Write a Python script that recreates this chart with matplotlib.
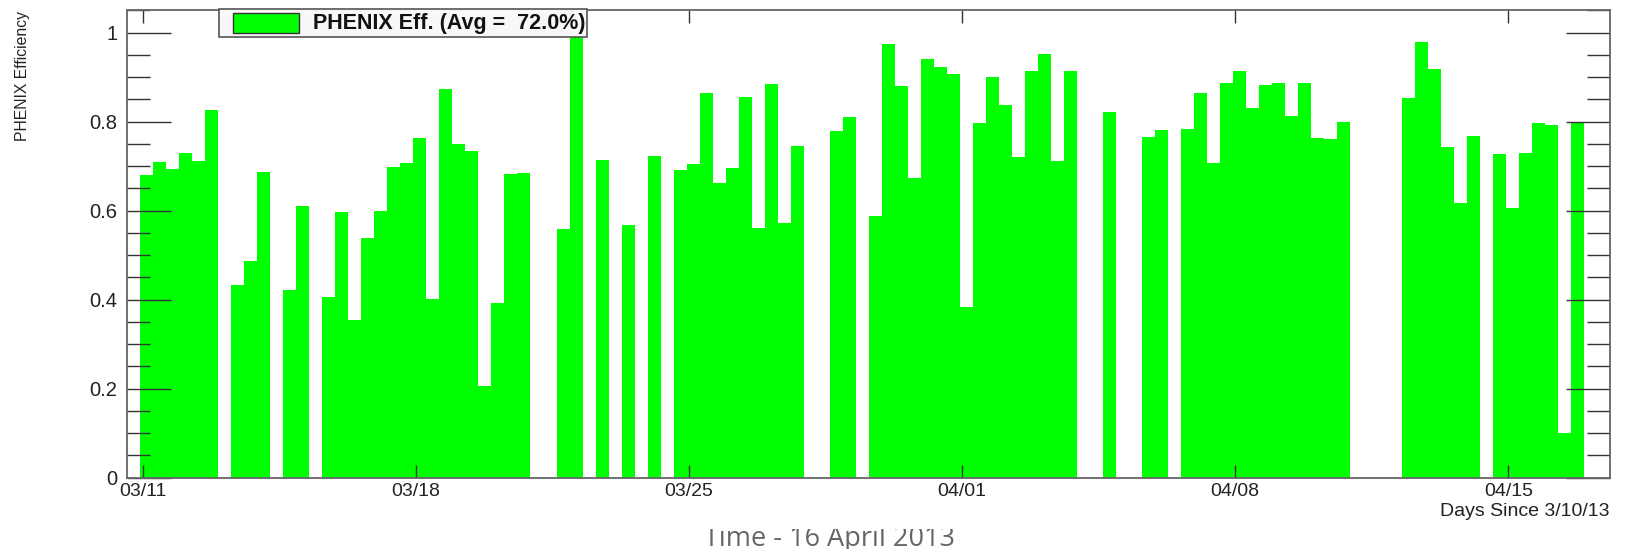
import numpy as np
import matplotlib
matplotlib.use("Agg")
import matplotlib.pyplot as plt
from matplotlib.patches import Rectangle
from matplotlib.ticker import MultipleLocator, FixedLocator

plt.rcParams['font.family'] = ['Liberation Sans', 'DejaVu Sans']

# ---------------- data ----------------
# 8-hour bins (1/3 day); x = days since 3/10/13 ; nan = no data in that bin
first_bin_day = 0.94
bin_width_days = 1.0 / 3.0
efficiency = [
    0.680, 0.710, 0.694, 0.729, 0.712, 0.826, np.nan, 0.434, 0.488, 0.688,
    np.nan, 0.422, 0.610, np.nan, 0.405, 0.597, 0.354, 0.539, 0.600, 0.699,
    0.708, 0.763, 0.401, 0.873, 0.751, 0.734, 0.205, 0.393, 0.682, 0.684,
    np.nan, np.nan, 0.558, 1.000, np.nan, 0.714, np.nan, 0.567, np.nan, 0.723,
    np.nan, 0.691, 0.704, 0.865, 0.663, 0.697, 0.856, 0.560, 0.884, 0.572,
    0.745, np.nan, np.nan, 0.780, 0.810, np.nan, 0.588, 0.975, 0.881, 0.673,
    0.940, 0.924, 0.907, 0.384, 0.796, 0.900, 0.838, 0.720, 0.915, 0.952,
    0.712, 0.915, np.nan, np.nan, 0.821, np.nan, np.nan, 0.766, 0.781, np.nan,
    0.783, 0.865, 0.708, 0.888, 0.915, 0.831, 0.882, 0.888, 0.812, 0.888,
    0.763, 0.761, 0.799, np.nan, np.nan, np.nan, np.nan, 0.853, 0.978, 0.919,
    0.743, 0.618, 0.767, np.nan, 0.728, 0.607, 0.730, 0.796, 0.792, 0.100,
    0.798,
]
tick_days = [1, 8, 15, 22, 29, 36]
tick_labels = ["03/11", "03/18", "03/25", "04/01", "04/08", "04/15"]
y_ticks = [0, 0.2, 0.4, 0.6, 0.8, 1.0]
y_tick_labels = ["0", "0.2", "0.4", "0.6", "0.8", "1"]
legend_label = "PHENIX Eff. (Avg =  72.0%)"
y_label = "PHENIX Efficiency"
x_label = "Days Since 3/10/13"
slide_title = "Time - 16 April 2013"

# ---------------- figure ----------------
W, H = 1625, 549
fig = plt.figure(figsize=(W / 100, H / 100), dpi=100)
fig.patch.set_facecolor("white")

def fx(px):
    return px / W

def fy(py):
    return 1 - py / H

ax_left, ax_right, ax_top, ax_bottom = 127.3, 1610.0, 10.45, 477.7
ax = fig.add_axes([fx(ax_left), fy(ax_bottom), fx(ax_right) - fx(ax_left), fy(ax_top) - fy(ax_bottom)])

vals = np.array(efficiency, dtype=float)
lefts = first_bin_day + bin_width_days * np.arange(len(vals))
mask = ~np.isnan(vals)
ax.bar(lefts[mask], vals[mask], width=bin_width_days, align="edge",
       color="#00ff00", linewidth=0)

ax.set_xlim(first_bin_day - bin_width_days, first_bin_day + bin_width_days * (len(vals) + 2))
ax.set_ylim(0, 1.05)

for s in ax.spines.values():
    s.set_color("#666666")
    s.set_linewidth(1.3)

ax.xaxis.set_major_locator(FixedLocator(tick_days))
ax.set_xticklabels(tick_labels)
ax.yaxis.set_major_locator(FixedLocator(y_ticks))
ax.set_yticklabels(y_tick_labels)
ax.yaxis.set_minor_locator(MultipleLocator(0.05))

ax.tick_params(axis="x", which="major", direction="in", top=True, bottom=True,
               length=9.5, width=1.0, color="#333333", labelsize=14,
               labelcolor="#222222", pad=4)
ax.tick_params(axis="y", which="major", direction="in", left=True, right=True,
               length=31.5, width=1.0, color="#333333", labelsize=14.5,
               labelcolor="#222222", pad=7)
ax.tick_params(axis="y", which="minor", direction="in", left=True, right=True,
               length=16.5, width=1.0, color="#333333")

# y label
fig.text(fx(23), fy(76), y_label, rotation=90, ha="center", va="center",
         fontsize=11.3, color="#222222")
# x-axis title (right aligned)
fig.text(fx(ax_right), fy(511), x_label, ha="right", va="center",
         fontsize=14, color="#222222")

# legend box
fig.add_artist(Rectangle((fx(219), fy(37)), fx(587) - fx(219), fy(9) - fy(37),
                         transform=fig.transFigure, facecolor="#f9f7f9",
                         edgecolor="#555555", linewidth=1.2, zorder=5))
fig.add_artist(Rectangle((fx(233), fy(33)), fx(299) - fx(233), fy(13) - fy(33),
                         transform=fig.transFigure, facecolor="#00ff00",
                         edgecolor="#333333", linewidth=1.0, zorder=6))
fig.text(fx(313), fy(23), legend_label, ha="left", va="center", fontsize=15.5,
         fontweight="bold", color="#111111", zorder=7)

# slide caption partly hidden behind the chart image
fig.text(fx(830), fy(546), slide_title, ha="center", va="baseline", fontsize=19.5,
         family=["Open Sans", "DejaVu Sans"], color="#666666", zorder=3)
fig.add_artist(Rectangle((fx(680), fy(529)), fx(990) - fx(680), 0.03,
                         transform=fig.transFigure, facecolor="white",
                         edgecolor="none", zorder=4))

fig.savefig("out.png", dpi=100)
